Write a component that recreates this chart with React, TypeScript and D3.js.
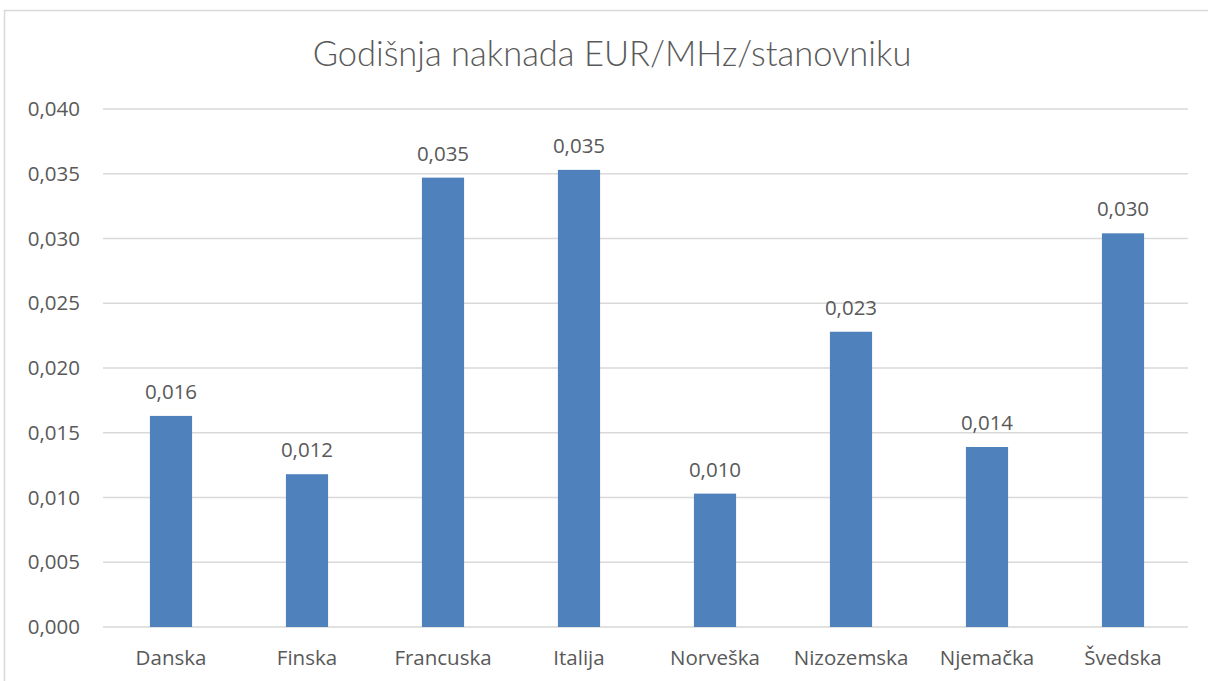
import React from "react";
import * as d3 from "d3";

const categories = ["Danska", "Finska", "Francuska", "Italija", "Norveška", "Nizozemska", "Njemačka", "Švedska"];
const values = [0.0163, 0.0118, 0.0347, 0.0353, 0.0103, 0.0228, 0.0139, 0.0304];
const yTicks = [0, 0.005, 0.01, 0.015, 0.02, 0.025, 0.03, 0.035, 0.04];
const title = "Godišnja naknada EUR/MHz/stanovniku";

const W = 1208;
const H = 681;
const plot = { left: 103, right: 1191, top: 109, bottom: 627 };
const textColor = "#595959";
const gridColor = "#D9D9D9";
const barColor = "#4F81BD";
const titleFont = "Lato, sans-serif";
const font = "'Open Sans', sans-serif";
const fs = 20.5;

const fmt = (v: number) => d3.format(".3f")(v).replace(".", ",");

export default function App() {
  const x = d3.scaleBand<string>().domain(categories).range([plot.left, plot.right]).paddingInner(0.69).paddingOuter(0.345);
  const y = d3.scaleLinear().domain([0, 0.04]).range([plot.bottom, plot.top]);
  return (
    <svg width={W} height={H} style={{ position: "absolute", left: 0, top: 0, background: "#fff" }}>
      <rect x={4.5} y={10.5} width={W + 10} height={H + 10} fill="#fff" stroke={gridColor} strokeWidth={1.5} />
      <text x={612} y={66} textAnchor="middle" fontFamily={titleFont} fontSize={34.5} fill={textColor} fontWeight={300}>
        {title}
      </text>
      {yTicks.map((t) => (
        <g key={t}>
          <line x1={plot.left} x2={1188} y1={y(t)} y2={y(t)} stroke={gridColor} strokeWidth={1.5} />
          <text x={80} y={y(t) + 7} textAnchor="end" fontFamily={font} fontSize={fs} fill={textColor}>
            {fmt(t)}
          </text>
        </g>
      ))}
      {categories.map((c, i) => {
        const bx = x(c)!;
        const bw = x.bandwidth();
        return (
          <g key={c}>
            <rect x={bx} y={y(values[i])} width={bw} height={y(0) - y(values[i])} fill={barColor} />
            <text x={bx + bw / 2} y={y(values[i]) - 17} textAnchor="middle" fontFamily={font} fontSize={fs} fill={textColor}>
              {fmt(values[i])}
            </text>
            <text x={bx + bw / 2} y={665} textAnchor="middle" fontFamily={font} fontSize={fs} fill={textColor}>
              {c}
            </text>
          </g>
        );
      })}
    </svg>
  );
}
